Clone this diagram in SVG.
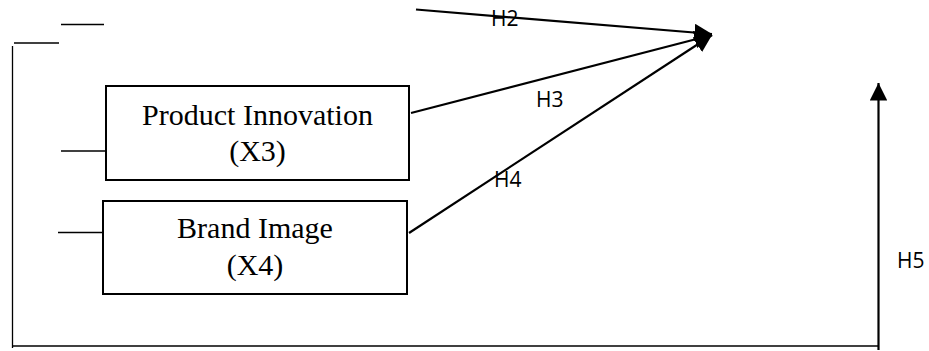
<svg xmlns="http://www.w3.org/2000/svg" width="929" height="351" viewBox="0 0 929 351">
<style>
.box{fill:#fff;stroke:#000;stroke-width:2}
.node-text{font-family:"Liberation Serif","Times New Roman",serif;font-size:30px;fill:#000;text-anchor:middle}
.thin{stroke:#000;stroke-width:1.3;fill:none}
.arrow{stroke:#000;stroke-width:2.2;fill:none;marker-end:url(#ah)}
.lbl{font-family:"Open Sans","DejaVu Sans",sans-serif;font-size:21px;fill:#000}
</style>
<defs>
<marker id="ah" markerWidth="8" markerHeight="8" refX="7" refY="3.5" orient="auto" markerUnits="strokeWidth" viewBox="0 0 7 7">
<path d="M0,0 L7,3.5 L0,7 Z" fill="#000"/>
</marker>
</defs>
<rect width="929" height="351" fill="#fff"/>
<g id="connectors">
<line class="thin" x1="61" y1="24.5" x2="104" y2="24.5"/>
<line class="thin" x1="14" y1="43" x2="59" y2="43"/>
<line class="thin" x1="12.5" y1="46" x2="12.5" y2="348"/>
<line class="thin" x1="12" y1="346" x2="879" y2="346"/>
<line class="thin" x1="61" y1="151" x2="106" y2="151"/>
<line class="thin" x1="58" y1="232.5" x2="103" y2="232.5"/>
<line class="arrow" x1="416" y1="9.5" x2="712" y2="34"/>
<line class="arrow" x1="411" y1="113" x2="712" y2="35"/>
<line class="arrow" x1="409" y1="233" x2="712" y2="35"/>
<line class="arrow" x1="878.5" y1="350" x2="878.5" y2="83"/>
<text class="lbl" x="491" y="26">H2</text>
<text class="lbl" x="536" y="107">H3</text>
<text class="lbl" x="494" y="187">H4</text>
<text class="lbl" x="897" y="268">H5</text>
</g>
<g id="product-innovation">
<rect class="box" x="106" y="86" width="303" height="94"/>
<text class="node-text" x="257.5" y="125">Product Innovation</text>
<text class="node-text" x="257.5" y="161">(X3)</text>
</g>
<g id="brand-image">
<rect class="box" x="103" y="201" width="304" height="93"/>
<text class="node-text" x="255" y="238">Brand Image</text>
<text class="node-text" x="255" y="275">(X4)</text>
</g>
</svg>
